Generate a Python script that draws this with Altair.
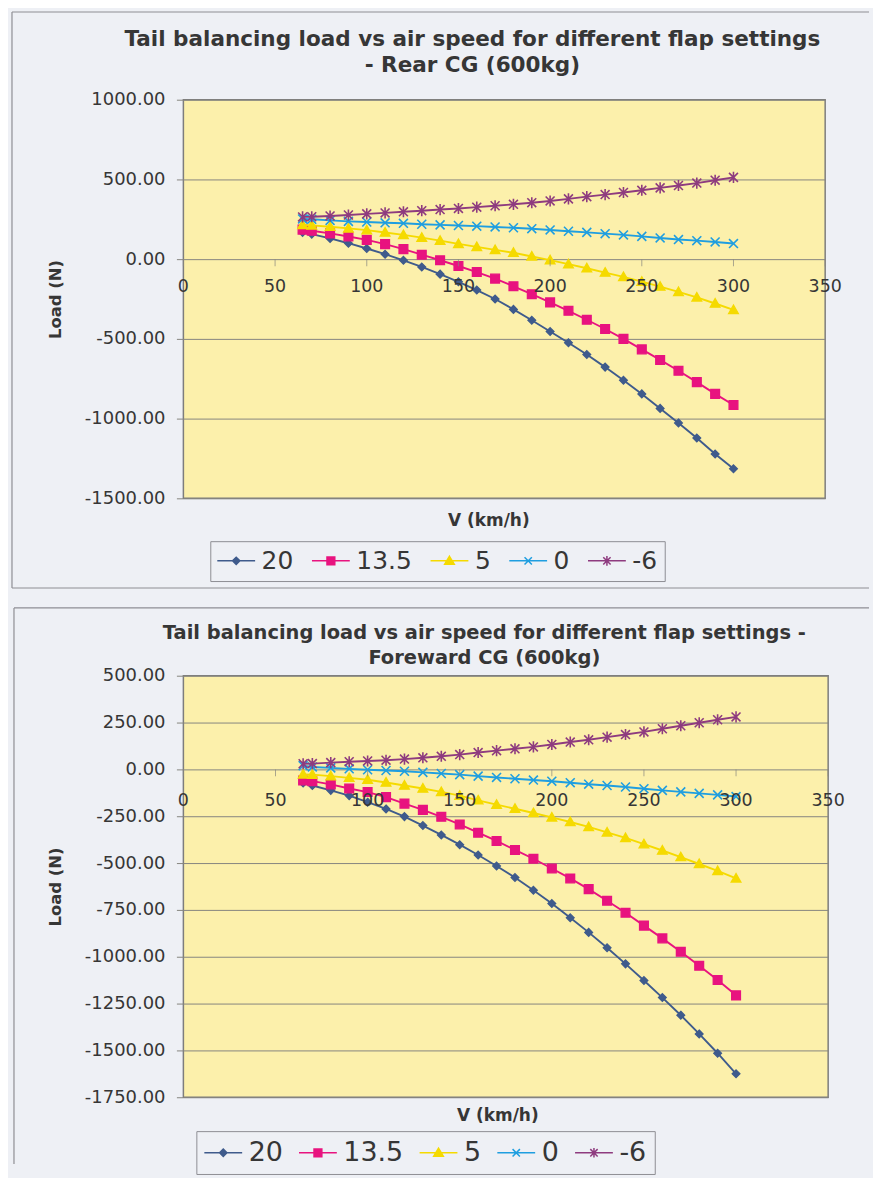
import altair as alt
import pandas as pd

# ---------------- data ----------------
speeds = [65, 70, 80, 90, 100, 110, 120, 130, 140, 150, 160, 170, 180,
          190, 200, 210, 220, 230, 240, 250, 260, 270, 280, 290, 300]
flap_names = ["20", "13.5", "5", "0", "-6"]
flap_colors = ["#3f5b8c", "#e8137f", "#f5da00", "#1f9ee0", "#8e3b7f"]

# Rear CG
rear_20 = [168, 157, 130, 100, 67, 31, -7, -49, -94, -142, -194, -250, -315,
           -383, -454, -524, -598, -677, -760, -845, -936, -1027, -1122, -1222, -1315]
rear_13_5 = [185, 178, 162, 142, 121, 94, 63, 28, -7, -43, -81, -122, -170,
             -220, -271, -324, -380, -438, -500, -566, -632, -700, -771, -845, -915]
rear_5 = [215, 212, 203, 193, 182, 167, 152, 135, 116, 96, 77, 58, 40,
          17, -6, -31, -57, -84, -111, -141, -172, -205, -240, -278, -318]
rear_0 = [252, 250, 243, 237, 233, 228, 225, 219, 215, 211, 207, 202, 197,
          191, 183, 175, 168, 160, 152, 143, 133, 123, 116, 108, 98]
rear_m6 = [265, 266, 271, 277, 284, 290, 297, 304, 311, 318, 326, 335, 344,
           354, 365, 378, 392, 405, 418, 432, 447, 462, 477, 495, 513]

# Forward CG
fwd_20 = [-73, -86, -112, -140, -175, -211, -252, -300, -350, -402, -457, -516, -577,
          -645, -716, -792, -870, -952, -1038, -1127, -1218, -1312, -1412, -1515, -1625]
fwd_13_5 = [-59, -63, -80, -102, -121, -148, -183, -216, -253, -294, -338, -382, -430,
            -477, -529, -582, -639, -701, -765, -834, -902, -973, -1048, -1124, -1206]
fwd_5 = [-27, -28, -36, -45, -55, -70, -86, -102, -120, -140, -165, -188, -210,
         -233, -256, -281, -307, -336, -366, -399, -433, -468, -505, -542, -582]
fwd_0 = [20, 13, 8, 3, -2, -6, -10, -16, -22, -28, -36, -43, -50,
         -57, -63, -71, -79, -86, -94, -103, -112, -120, -128, -136, -145]
fwd_m6 = [30, 31, 36, 41, 45, 49, 55, 62, 70, 79, 90, 100, 110,
          120, 133, 146, 158, 172, 186, 200, 217, 233, 249, 265, 280]

x_ticks = [0, 50, 100, 150, 200, 250, 300, 350]
rear_y_ticks = [-1500, -1000, -500, 0, 500, 1000]
fwd_y_ticks = [-1750, -1500, -1250, -1000, -750, -500, -250, 0, 250, 500]

rear_title = ["Tail balancing load vs air speed for different flap settings",
              "- Rear CG (600kg)"]
fwd_title = ["Tail balancing load vs air speed for different flap settings -",
             "Foreward CG (600kg)"]
x_title = "V (km/h)"
y_title = "Load (N)"

# ---------------- style ----------------
FONT = "DejaVu Sans"
TEXT = "#363636"
GRID = "#87867f"
FRAME = "#8e8e94"
BG = "#eef0f5"
PLOT_FILL = "#fcf0ab"

marker_paths = [
    "M0,-1L1,0L0,1L-1,0Z",
    "M-1,-1H1V1H-1Z",
    "M0,-1L1,0.75L-1,0.75Z",
    "M-1,-1L1,1M-1,1L1,-1",
    "M-1,-1L1,1M-1,1L1,-1M0,-1.25V1.25",
]
marker_sizes = [60, 78, 95, 80, 80]
marker_strokes = [1.3, 1.3, 1.3, 1.6, 1.6]
legend_paths = [
    "M-1.65,0H1.65M0,-0.32L0.32,0L0,0.32L-0.32,0Z",
    "M-1.65,0H1.65M-0.34,-0.34H0.34V0.34H-0.34Z",
    "M-1.65,0H1.65M0,-0.4L0.42,0.3H-0.42Z",
    "M-1.65,0H1.65M-0.32,-0.32L0.32,0.32M-0.32,0.32L0.32,-0.32",
    "M-1.65,0H1.65M-0.32,-0.32L0.32,0.32M-0.32,0.32L0.32,-0.32M0,-0.42V0.42",
]


def panel(series, y_ticks, width, height, title_lines, title_pos, title_size,
          title_lh, label_dy, xtitle_pos, legend_pos, legend_font, legend_pad,
          col_pad, sym_off, lab_off, frame):
    rows = [dict(V=v, Load=l, flap=n)
            for n, vals in zip(flap_names, series)
            for v, l in zip(speeds, vals)]
    df = pd.DataFrame(rows)
    xs = alt.Scale(domain=[x_ticks[0], x_ticks[-1]], nice=False, zero=False)
    ys = alt.Scale(domain=[y_ticks[0], y_ticks[-1]], nice=False, zero=False)
    x_axis = alt.Axis(title=x_title, labels=False, ticks=False, domain=False,
                      grid=False, titleFont=FONT, titleFontSize=17,
                      titleFontWeight="bold", titleColor=TEXT,
                      titleX=xtitle_pos[0], titleY=xtitle_pos[1],
                      titleBaseline="middle")
    y_axis = alt.Axis(title=y_title, values=y_ticks,
                      labelExpr="replace(format(datum.value, '.2f'), '\u2212', '-')",
                      labelFont=FONT, labelFontSize=18, labelColor=TEXT,
                      labelPadding=11.5, tickSize=7, tickColor=GRID,
                      tickWidth=1, domain=False, grid=True, gridColor=GRID,
                      gridWidth=1, gridOpacity=1, titleFont=FONT,
                      titleFontSize=16.5, titleFontWeight="bold",
                      titleColor=TEXT, titlePadding=21)
    X = alt.X("V:Q", scale=xs, axis=x_axis)
    Y = alt.Y("Load:Q", scale=ys, axis=y_axis)
    color_scale = alt.Scale(domain=flap_names, range=flap_colors)
    base = alt.Chart(df)
    layers = []
    # series lines and markers
    for name, color, path, size, sw in zip(flap_names, flap_colors, marker_paths,
                                           marker_sizes, marker_strokes):
        sub = base.transform_filter(alt.datum.flap == name)
        layers.append(sub.mark_line(strokeWidth=1.9, color=color).encode(
            x=X, y=Y, order=alt.Order("V:Q")))
        layers.append(sub.mark_point(
            shape=path, size=size, filled=True, fill=color, stroke=color,
            strokeWidth=sw, opacity=1).encode(x=X, y=Y))
    # horizontal axis drawn at zero
    tick_df = pd.DataFrame({"V": x_ticks})
    layers.append(alt.Chart(tick_df).mark_tick(
        orient="vertical", size=7, thickness=1, color=GRID, yOffset=3.5
    ).encode(x=X, y=alt.datum(0)))
    layers.append(alt.Chart(tick_df).mark_text(
        dy=label_dy, font=FONT, fontSize=17.5, color=TEXT
    ).encode(x=X, y=alt.datum(0), text=alt.Text("V:Q", format="d")))
    # legend-only layer
    leg = alt.Legend(orient="none", legendX=legend_pos[0], legendY=legend_pos[1],
                     direction="horizontal", title=None, labelFont=FONT,
                     labelFontSize=legend_font, labelColor=TEXT,
                     symbolSize=529, symbolStrokeWidth=1.5,
                     symbolOffset=sym_off, labelOffset=lab_off,
                     columnPadding=col_pad, padding=legend_pad,
                     strokeColor=FRAME)
    layers.append(base.transform_filter("false").mark_point(
        filled=True, opacity=1, strokeWidth=1.5).encode(
        x=X, y=Y,
        fill=alt.Fill("flap:N", scale=color_scale, legend=leg),
        stroke=alt.Stroke("flap:N", scale=color_scale, legend=leg),
        shape=alt.Shape("flap:N", scale=alt.Scale(domain=flap_names, range=legend_paths),
                        legend=leg)))
    # panel frame
    one = alt.Chart(pd.DataFrame({"k": [0]}))
    fl, fr, ft, fb, has_bottom = frame
    layers.append(one.mark_rule(color=FRAME, strokeWidth=1.2).encode(
        x=alt.value(fl), x2=alt.value(fr), y=alt.value(ft)))
    layers.append(one.mark_rule(color=FRAME, strokeWidth=1.2).encode(
        x=alt.value(fl), y=alt.value(ft), y2=alt.value(fb)))
    if has_bottom:
        layers.append(one.mark_rule(color=FRAME, strokeWidth=1.2).encode(
            x=alt.value(fl), x2=alt.value(fr), y=alt.value(fb)))
    # title
    for i, line in enumerate(title_lines):
        layers.append(one.mark_text(
            text=line, font=FONT, fontSize=title_size, fontWeight="bold",
            color=TEXT, align="center", baseline="middle"
        ).encode(x=alt.value(title_pos[0]), y=alt.value(title_pos[1] + i * title_lh)))
    return alt.layer(*layers).properties(width=width, height=height)


top = panel([rear_20, rear_13_5, rear_5, rear_0, rear_m6], rear_y_ticks,
            644, 400, rear_title, (290, -60), 21.6, 26, 28, (306, 22),
            (27, 443), 25, 7, 15, 6.5, 13, (-172, 688, -88, 490, True))

bottom = panel([fwd_20, fwd_13_5, fwd_5, fwd_0, fwd_m6], fwd_y_ticks,
               647, 423, fwd_title, (302, -43), 19.5, 25, 32, (315, 18),
               (13, 457), 27, 8, 13, 5.5, 12, (-170, 688, -68, 490, False))

chart = alt.vconcat(top, bottom, spacing=16).resolve_scale(
    fill="independent", stroke="independent", shape="independent"
).resolve_legend(
    fill="independent", stroke="independent", shape="independent"
).properties(
    background=BG,
    padding={"left": 2, "top": 0, "right": 2, "bottom": 0},
).configure_view(fill=PLOT_FILL, stroke="#7d7d7d", strokeWidth=1.5)

chart.save("out.html", embed_options={"renderer": "svg", "actions": False})
